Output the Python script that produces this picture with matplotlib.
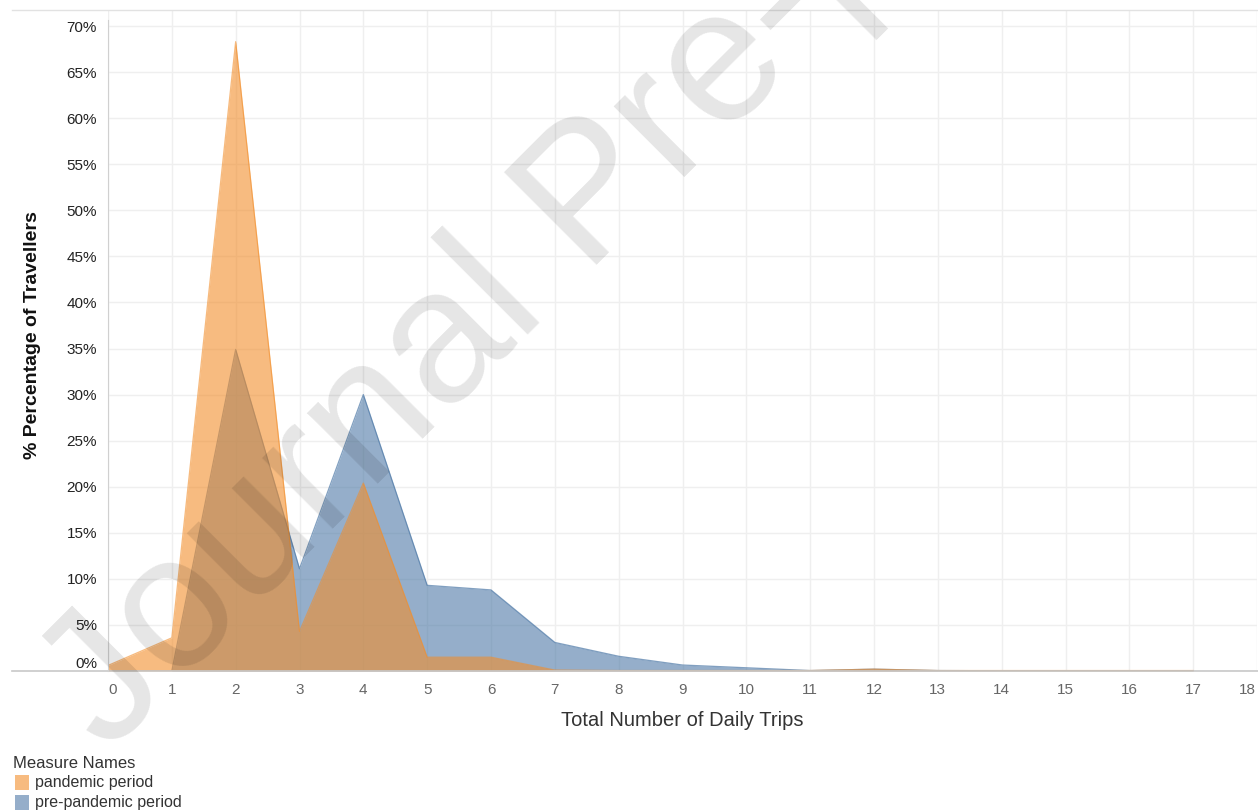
import matplotlib
matplotlib.use("Agg")
import matplotlib.pyplot as plt
import matplotlib.transforms as mtransforms
from matplotlib.lines import Line2D
from matplotlib.patches import Rectangle

# ---- data (percent of travellers) ----
trips = [0, 1, 2, 3, 4, 5, 6, 7, 8, 9, 10, 11, 12, 13, 14, 15, 16, 17]
pandemic = [0.6, 3.6, 68.3, 4.3, 20.4, 1.5, 1.5, 0.1, 0.05, 0.05, 0.05, 0.05,
            0.2, 0.05, 0.05, 0.05, 0.05, 0.05]
pre_pandemic = [0.0, 0.0, 34.9, 11.1, 30.0, 9.3, 8.8, 3.1, 1.6, 0.65, 0.35, 0.05,
                0.2, 0.05, 0.03, 0.03, 0.03, 0.03]
x_ticks = list(range(0, 19))
y_ticks = [0, 5, 10, 15, 20, 25, 30, 35, 40, 45, 50, 55, 60, 65, 70]
series_names = ["pandemic period", "pre-pandemic period"]

plt.rcParams['font.family'] = ['Liberation Sans', 'DejaVu Sans']

W, H = 1258, 811
fig = plt.figure(figsize=(W / 100, H / 100), dpi=100)

left_px, right_px = 108, 1257
bottom_px, top_px = 671, 10
ax = fig.add_axes([left_px / W, 1 - bottom_px / H,
                   (right_px - left_px) / W, (bottom_px - top_px) / H])

ORANGE = "#F28E2B"
BLUE = "#4E79A7"

ax.fill_between(trips, pre_pandemic, 0, color=BLUE, alpha=0.6, lw=0, zorder=2)
ax.plot(trips, pre_pandemic, color=BLUE, alpha=0.7, lw=0.9, zorder=3)
ax.fill_between(trips, pandemic, 0, color=ORANGE, alpha=0.6, lw=0, zorder=4)
ax.plot(trips, pandemic, color=ORANGE, alpha=0.6, lw=0.9, zorder=5)

ax.set_xlim(0, 18)
ax.set_ylim(0, (bottom_px - top_px) / ((bottom_px - 26) / 70))

ax.set_xticks(x_ticks)
ax.set_xticklabels([str(t) for t in x_ticks])
ax.set_yticks(y_ticks)
ax.set_yticklabels([f"{t}%" for t in y_ticks])
ax.tick_params(axis='both', length=0)
ax.tick_params(axis='x', labelsize=11, labelcolor="#666666", pad=9)
ax.tick_params(axis='y', labelsize=11, labelcolor="#222222", pad=8)

# shift edge labels like the original
xl = ax.get_xticklabels()
xl[0].set_transform(xl[0].get_transform() + mtransforms.ScaledTranslation(5 / 100, 0, fig.dpi_scale_trans))
xl[-1].set_transform(xl[-1].get_transform() + mtransforms.ScaledTranslation(-10 / 100, 0, fig.dpi_scale_trans))
yl = ax.get_yticklabels()
yl[0].set_transform(yl[0].get_transform() + mtransforms.ScaledTranslation(0, 8 / 100, fig.dpi_scale_trans))

ax.grid(True, color="#EFEFEF", lw=1, zorder=0)
ax.set_axisbelow(True)
for s in ax.spines.values():
    s.set_visible(False)

# frame lines (figure pixel coords)
def fig_line(x0, y0, x1, y1, color, lw=1.0):
    fig.add_artist(Line2D([x0 / W, x1 / W], [1 - y0 / H, 1 - y1 / H],
                          transform=fig.transFigure, color=color, lw=lw, zorder=6))

fig_line(12, 671, 1258, 671, "#C8C8C8", 1.2)
fig_line(108, 20, 108, 671, "#D0D0D0", 0.8)
fig_line(12, 10, 1258, 10, "#E2E2E2", 1.0)

# axis titles
fig.text(682 / W, 1 - 721 / H, "Total Number of Daily Trips", ha='center', va='center',
         fontsize=14.5, color="#333333")
fig.text(33 / W, 1 - 335 / H, "% Percentage of Travellers", ha='center', va='center',
         rotation=90, fontsize=14, color="#111111", fontweight='bold')

# legend
fig.text(13 / W, 1 - 763 / H, "Measure Names", ha='left', va='center', fontsize=12, color="#333333")
for i, (name, col) in enumerate(zip(series_names, [ORANGE, BLUE])):
    yc = 782 + i * 20
    fig.add_artist(Rectangle((15 / W, 1 - (yc + 7.5) / H), 14 / W, 15 / H,
                             transform=fig.transFigure, facecolor=col, alpha=0.6, lw=0))
    fig.text(35 / W, 1 - yc / H, name, ha='left', va='center', fontsize=11.5, color="#333333")

# watermark
fig.text(107 / W, 1 - 754 / H, "Journal Pre-proof", rotation=45, rotation_mode='anchor',
         ha='left', va='baseline', fontsize=137, color="black", alpha=0.1, zorder=20)

fig.savefig("out.png", dpi=100)
